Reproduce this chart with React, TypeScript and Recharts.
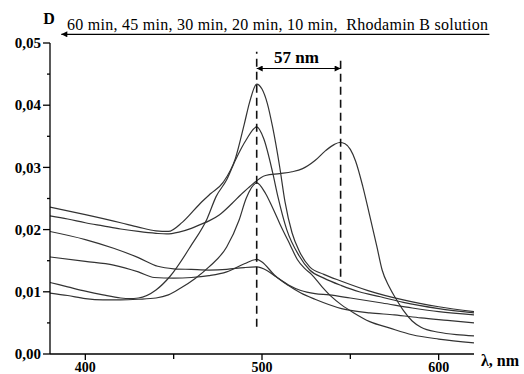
import { LineChart, Line, XAxis, YAxis, ReferenceLine, ReferenceDot } from 'recharts';

// wavelength (nm) / optical density readings, one pair of arrays per curve
const wlPeak43 = [380, 400, 420, 430, 440, 447, 455, 465, 471, 478, 485, 490, 493, 497, 500, 503, 506, 510, 513, 517, 521, 527, 535, 545, 560, 580, 600, 620];
const dPeak43 = [0.0236, 0.0224, 0.0211, 0.0204, 0.0198, 0.0197, 0.0212, 0.0242, 0.0258, 0.0276, 0.0315, 0.037, 0.0405, 0.0434, 0.0426, 0.0403, 0.0365, 0.0301, 0.0245, 0.0195, 0.0166, 0.014, 0.0128, 0.0117, 0.0102, 0.0087, 0.0076, 0.0068];

const wlPeak36 = [380, 390, 400, 410, 420, 425, 430, 440, 448, 460, 469, 474, 480, 485, 491, 497, 501, 506, 509, 514, 521, 527, 535, 545, 555, 567, 580, 600, 620];
const dPeak36 = [0.0115, 0.0108, 0.0101, 0.0095, 0.009, 0.0089, 0.009, 0.0103, 0.0125, 0.0175, 0.0218, 0.0253, 0.028, 0.0312, 0.0344, 0.0365, 0.0346, 0.0292, 0.0253, 0.02, 0.0158, 0.0135, 0.0122, 0.011, 0.01, 0.0092, 0.0083, 0.0073, 0.0066];

const wlPeak27 = [380, 390, 400, 410, 420, 430, 440, 447, 454, 462, 470, 480, 487, 491, 497, 502, 506, 510, 516, 520, 524, 528, 534, 539, 545, 552, 561, 572, 585, 600, 620];
const dPeak27 = [0.0098, 0.0094, 0.0089, 0.0087, 0.0087, 0.0088, 0.009, 0.0095, 0.0106, 0.0121, 0.014, 0.0172, 0.0215, 0.025, 0.0275, 0.0258, 0.0235, 0.021, 0.0175, 0.0152, 0.0138, 0.0128, 0.0108, 0.0093, 0.0079, 0.0066, 0.0052, 0.0042, 0.0031, 0.0024, 0.0018];

const wlFlat14 = [380, 400, 416, 430, 441, 450, 460, 470, 480, 490, 497, 503, 508, 515, 522, 530, 538, 550, 568, 585, 600, 620];
const dFlat14 = [0.0197, 0.0184, 0.017, 0.0155, 0.0141, 0.0137, 0.0136, 0.0135, 0.0136, 0.0139, 0.014, 0.0134, 0.0124, 0.0111, 0.0102, 0.0097, 0.0095, 0.009, 0.0082, 0.0074, 0.0068, 0.0063];

const wlPeak15 = [380, 400, 416, 430, 439, 450, 460, 470, 480, 490, 497, 500, 507, 515, 522, 530, 545, 561, 575, 590, 605, 620];
const dPeak15 = [0.0156, 0.0149, 0.0143, 0.0132, 0.0123, 0.0122, 0.0123, 0.0126, 0.0132, 0.0145, 0.0152, 0.0148, 0.0127, 0.011, 0.0098, 0.0088, 0.0073, 0.0066, 0.0063, 0.0058, 0.0054, 0.005];

const wlRhodamine = [380, 390, 400, 410, 420, 430, 440, 446, 453, 460, 465, 470, 476, 483, 488, 493, 502, 510, 517, 523, 530, 536, 541, 544, 547, 550, 553, 557, 561, 565, 568, 572, 576, 580, 585, 590, 600, 610, 620];
const dRhodamine = [0.0222, 0.0217, 0.0211, 0.0206, 0.0201, 0.0197, 0.0194, 0.0193, 0.0196, 0.0202, 0.0208, 0.0214, 0.0224, 0.0242, 0.0256, 0.0269, 0.0287, 0.029, 0.0293, 0.0298, 0.0311, 0.0327, 0.0337, 0.034, 0.0338, 0.0329, 0.031, 0.027, 0.0222, 0.0173, 0.0135, 0.0108, 0.0088, 0.007, 0.0053, 0.0043, 0.0035, 0.0031, 0.0029];

const xTicks = [400, 450, 500, 550, 600];
const xLabels = [400, 500, 600];
const yTicks = [0, 0.005, 0.01, 0.015, 0.02, 0.025, 0.03, 0.035, 0.04, 0.045, 0.05];
const yLabels = [0, 0.01, 0.02, 0.03, 0.04, 0.05];

const titleText = '60 min, 45 min, 30 min, 20 min, 10 min,  Rhodamin B solution';
const shiftText = '57 nm';
const peakShort = 497;
const peakLong = 544.5;

const toPoints = (xs: number[], ys: number[]) => xs.map((x, i) => ({ x, y: ys[i] }));

const curves = [
    toPoints(wlPeak43, dPeak43),
    toPoints(wlPeak36, dPeak36),
    toPoints(wlPeak27, dPeak27),
    toPoints(wlFlat14, dFlat14),
    toPoints(wlPeak15, dPeak15),
    toPoints(wlRhodamine, dRhodamine),
];

const serif = '"Liberation Serif", "Times New Roman", serif';

const YTick = (p: any) => {
    const v = p.payload.value;
    const major = yLabels.some((l) => Math.abs(l - v) < 1e-6);
    return (
        <g>
            <line x1={p.x - (major ? 7 : 3)} y1={p.y} x2={p.x} y2={p.y} stroke="#000" strokeWidth={1.3} />
            {major && (
                <text x={p.x - 9} y={p.y} dy="0.35em" textAnchor="end" fontFamily={serif} fontWeight="bold" fontSize={15} fill="#000">
                    {v.toFixed(2).replace('.', ',')}
                </text>
            )}
        </g>
    );
};

const XTick = (p: any) => {
    const v = p.payload.value;
    const major = xLabels.includes(v);
    return (
        <g>
            <line x1={p.x} y1={p.y} x2={p.x} y2={p.y + (major ? 6 : 5)} stroke="#000" strokeWidth={1.3} />
            {major && (
                <text x={p.x} y={p.y + 18} textAnchor="middle" fontFamily={serif} fontWeight="bold" fontSize={14} fill="#000">
                    {v}
                </text>
            )}
        </g>
    );
};

const DashedShape = (p: any) => (
    <line x1={p.x1} y1={p.y1} x2={p.x2} y2={p.y2} stroke="#111" strokeWidth={1.6} strokeDasharray="8 5" />
);

const DoubleArrow = (p: any) => (
    <line x1={p.x1} y1={p.y1} x2={p.x2} y2={p.y2} stroke="#000" strokeWidth={1.2} markerStart="url(#ah)" markerEnd="url(#ah)" />
);

const LeftArrow = (p: any) => (
    <line x1={p.x1} y1={p.y1} x2={p.x2} y2={p.y2} stroke="#000" strokeWidth={1.2} markerEnd="url(#ah)" />
);

const ShiftLabel = (p: any) => (
    <text x={p.cx} y={p.cy} textAnchor="middle" fontFamily={serif} fontWeight="bold" fontSize={17} fill="#000">
        {shiftText}
    </text>
);

export default function App() {
    return (
        <div style={{ position: 'absolute', left: 0, top: 0, width: 524, height: 374, background: '#fff' }}>
            <LineChart width={524} height={374} margin={{ top: 43, right: 50, bottom: 0, left: 0 }}>
                <defs>
                    <marker id="ah" viewBox="0 0 10 10" refX="10" refY="5" markerWidth="9" markerHeight="6" markerUnits="userSpaceOnUse" orient="auto-start-reverse">
                        <path d="M0,0 L10,5 L0,10 z" fill="#000" />
                    </marker>
                </defs>
                <XAxis
                    type="number"
                    dataKey="x"
                    domain={[380, 620]}
                    ticks={xTicks}
                    interval={0}
                    allowDataOverflow
                    height={20}
                    tickSize={0}
                    tickMargin={0}
                    tickLine={false}
                    axisLine={{ stroke: '#000', strokeWidth: 1.3 }}
                    tick={<XTick />}
                />
                <YAxis
                    type="number"
                    dataKey="y"
                    domain={[0, 0.05]}
                    ticks={yTicks}
                    interval={0}
                    allowDataOverflow
                    width={50}
                    tickSize={0}
                    tickMargin={0}
                    tickLine={false}
                    axisLine={{ stroke: '#000', strokeWidth: 1.3 }}
                    tick={<YTick />}
                />
                {curves.map((data, i) => (
                    <Line
                        key={i}
                        data={data}
                        dataKey="y"
                        type="monotone"
                        stroke="#333"
                        strokeWidth={1.2}
                        dot={false}
                        activeDot={false}
                        isAnimationActive={false}
                    />
                ))}
                <ReferenceLine segment={[{ x: peakShort, y: 0.0044 }, { x: peakShort, y: 0.0486 }]} shape={DashedShape} ifOverflow="visible" />
                <ReferenceLine segment={[{ x: peakLong, y: 0.0124 }, { x: peakLong, y: 0.0476 }]} shape={DashedShape} ifOverflow="visible" />
                <ReferenceLine segment={[{ x: peakShort, y: 0.0459 }, { x: peakLong, y: 0.0459 }]} shape={DoubleArrow} ifOverflow="visible" />
                <ReferenceDot x={519.5} y={0.0468} r={0} shape={ShiftLabel} ifOverflow="visible" />
                <ReferenceLine segment={[{ x: 628.7, y: 0.0514 }, { x: 386.4, y: 0.0514 }]} shape={LeftArrow} ifOverflow="visible" />
                <text x={67} y={30} fontFamily={serif} fontSize={16} fill="#000" textLength={421} lengthAdjust="spacing" style={{ whiteSpace: 'pre' }}>
                    {titleText}
                </text>
                <text x={49} y={24} textAnchor="middle" fontFamily={serif} fontWeight="bold" fontSize={16} fill="#000">
                    D
                </text>
                <text x={481} y={366} fontFamily={serif} fontWeight="bold" fontSize={16} fill="#000">
                    λ, nm
                </text>
            </LineChart>
        </div>
    );
}
